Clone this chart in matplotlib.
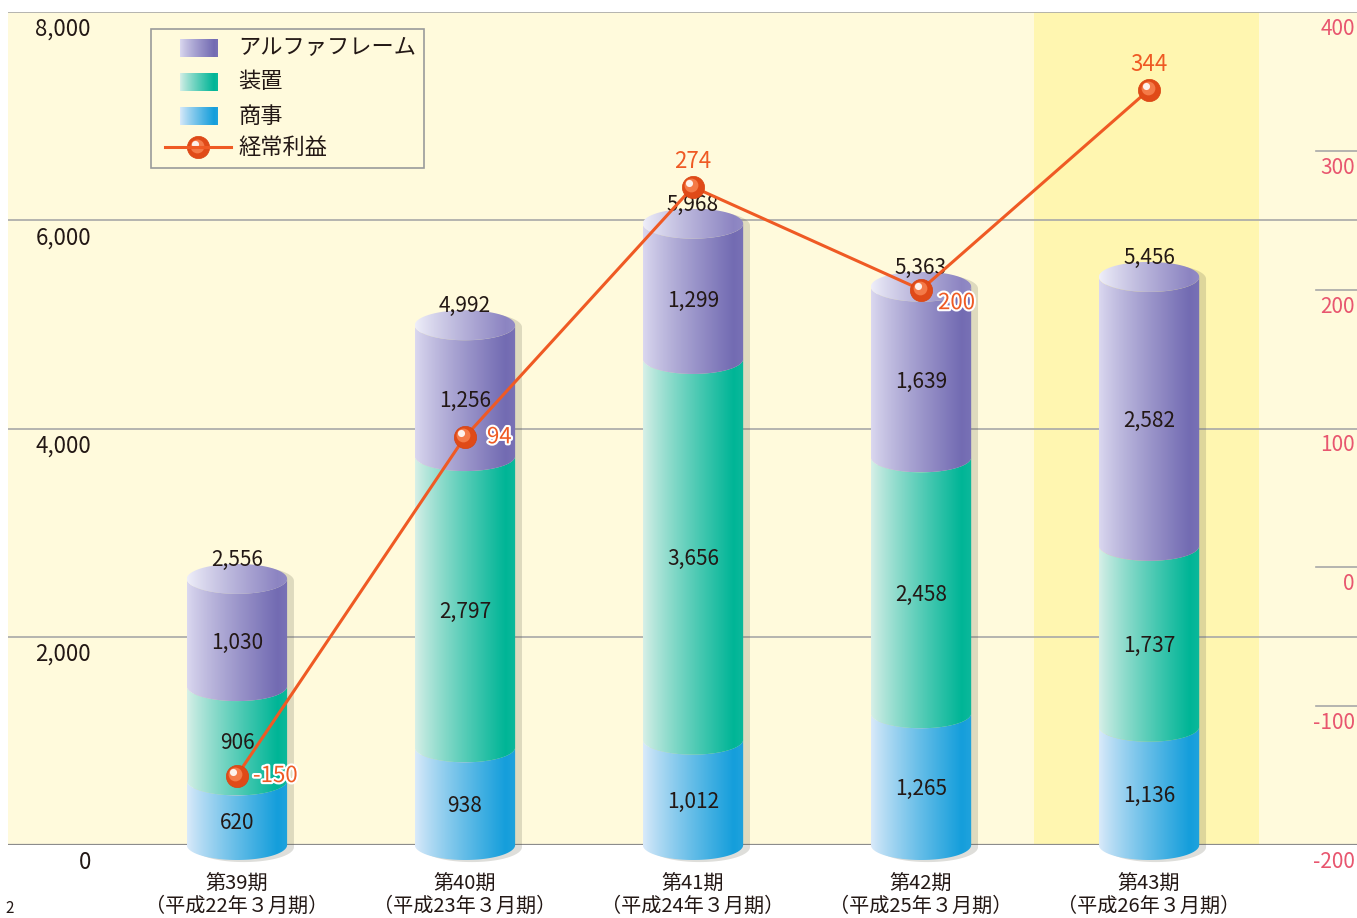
import numpy as np
import matplotlib
matplotlib.use("Agg")
import matplotlib.pyplot as plt
import matplotlib.patheffects as pe
from matplotlib.path import Path
from matplotlib.patches import PathPatch, Rectangle
from matplotlib.transforms import offset_copy, blended_transform_factory


# =========================
# Data
# =========================

periods = ["第39期", "第40期", "第41期", "第42期", "第43期"]
fiscal = ["（平成22年３月期）", "（平成23年３月期）", "（平成24年３月期）",
          "（平成25年３月期）", "（平成26年３月期）"]

trading = [620, 938, 1012, 1265, 1136]          # 商事
equipment = [906, 2797, 3656, 2458, 1737]       # 装置
alpha_frame = [1030, 1256, 1299, 1639, 2582]    # アルファフレーム
totals = [2556, 4992, 5968, 5363, 5456]
profit = [-150, 94, 274, 200, 344]              # 経常利益

series_names = ["アルファフレーム", "装置", "商事", "経常利益"]

left_ticks = [0, 2000, 4000, 6000, 8000]
right_ticks = [-200, -100, 0, 100, 200, 300, 400]


# =========================
# Style
# =========================

plt.rcParams["font.family"] = ["Noto Sans CJK JP", "DejaVu Sans"]

CREAM = "#fffadc"
HIGHLIGHT = "#fff6b0"
GRID = "#a8a8a8"
TEXT = "#231815"
PINK = "#e8566f"
ORANGE = "#ef5a24"

# left/right gradient colours per segment
PURPLE = ((0.86, 0.85, 0.94), (0.45, 0.42, 0.70))
GREEN = ((0.85, 0.94, 0.91), (0.00, 0.71, 0.59))
BLUE = ((0.86, 0.92, 0.98), (0.08, 0.62, 0.86))
CAP = ((0.94, 0.94, 0.98), (0.55, 0.52, 0.76))

HALF_W = 0.22     # cylinder half width (category units)
ELL_H = 144       # ellipse half height (left axis units)


def gradient(colors, n=256):
    left = np.array(colors[0])
    right = np.array(colors[1])
    t = np.linspace(0, 1, n)
    k = np.clip(t / 0.9, 0, 1) ** 0.85
    k[t > 0.9] -= (t[t > 0.9] - 0.9) * 0.6
    img = left[None, :] + (right - left)[None, :] * k[:, None]
    return img[None, :, :]


def segment_path(x, y0, y1):
    th = np.linspace(np.pi, 2 * np.pi, 60)
    top = np.column_stack([x + HALF_W * np.cos(th), y1 + ELL_H * np.sin(th)])
    bot = np.column_stack([x + HALF_W * np.cos(th[::-1]), y0 + ELL_H * np.sin(th[::-1])])
    verts = np.vstack([top, bot, top[:1]])
    codes = [Path.MOVETO] + [Path.LINETO] * (len(verts) - 2) + [Path.CLOSEPOLY]
    return Path(verts, codes)


def ellipse_path(x, y):
    th = np.linspace(0, 2 * np.pi, 120)
    verts = np.column_stack([x + HALF_W * np.cos(th), y + ELL_H * np.sin(th)])
    return Path(verts, closed=True)


def silhouette(x, ytop, dx, dy):
    th_b = np.linspace(np.pi, 2 * np.pi, 60)
    th_t = np.linspace(0, np.pi, 60)
    bot = np.column_stack([x + dx + HALF_W * np.cos(th_b), dy + ELL_H * np.sin(th_b)])
    top = np.column_stack([x + dx + HALF_W * np.cos(th_t), ytop + dy + ELL_H * np.sin(th_t)])
    verts = np.vstack([bot, top, bot[:1]])
    return Path(verts, closed=True)


def fill_gradient(ax, path, colors, extent, zorder):
    patch = PathPatch(path, facecolor="none", edgecolor="none", clip_on=False)
    ax.add_patch(patch)
    im = ax.imshow(gradient(colors), extent=extent, aspect="auto",
                   interpolation="bilinear", zorder=zorder)
    im.set_clip_box(ax.figure.bbox)
    im.set_clip_path(patch)


def sphere(ax, xs, ys, transform, size=16):
    fig = ax.figure
    ax.plot(xs, ys, "o", ms=size, color="#e04a18", mec="#d8420f", mew=0.5,
            transform=transform, zorder=6, clip_on=False)
    t1 = offset_copy(transform, fig=fig, x=-1.5, y=1.5, units="dots")
    ax.plot(xs, ys, "o", ms=size * 0.62, color="#f47a48", mew=0,
            transform=t1, zorder=7, clip_on=False)
    t2 = offset_copy(transform, fig=fig, x=-3.5, y=3.5, units="dots")
    ax.plot(xs, ys, "o", ms=size * 0.32, color="white", alpha=0.9, mew=0,
            transform=t2, zorder=8, clip_on=False)


# =========================
# Figure
# =========================

fig = plt.figure(figsize=(13.57, 9.18), dpi=100)
fig.patch.set_facecolor("white")
ax = fig.add_axes([8 / 1357, 73 / 918, 1349 / 1357, 833 / 918])
ax.set_facecolor(CREAM)
ax.set_xlim(-1.004, 4.912)
ax.set_ylim(0, 8000)
ax.set_autoscale_on(False)
for s in ax.spines.values():
    s.set_visible(False)

# highlighted latest period
ax.axvspan(3.496, 4.482, color=HIGHLIGHT, zorder=0.5, lw=0)

# grid lines
for v in left_ticks[1:]:
    ax.axhline(v, color=GRID, lw=1.2, zorder=1)
ax.axhline(0, color="#8c8c8c", lw=1.6, zorder=1)

# left tick labels (under each grid line)
ytrans = blended_transform_factory(ax.transAxes, ax.transData)
for v in left_ticks:
    ax.annotate(f"{v:,}", xy=(0.0615, v), xycoords=ytrans,
                xytext=(0, -6), textcoords="offset pixels",
                ha="right", va="top", fontsize=16, color=TEXT,
                annotation_clip=False)

# x labels
ax.set_yticks([])
ax.set_xticks(range(len(periods)))
ax.set_xticklabels([f"{p}\n{f}" for p, f in zip(periods, fiscal)],
                   fontsize=14.5, color=TEXT, linespacing=1.05)
ax.tick_params(axis="x", length=0, pad=21)

# cylinders
stack = [trading, equipment, alpha_frame]
grads = [BLUE, GREEN, PURPLE]
for i in range(len(periods)):
    sil = PathPatch(silhouette(i, totals[i], 0.03, -20), facecolor="#5a5a48",
                    alpha=0.2, edgecolor="none", zorder=1.5, clip_on=False)
    ax.add_patch(sil)
    base = 0
    for vals, g in zip(stack, grads):
        top = base + vals[i]
        fill_gradient(ax, segment_path(i, base, top), g,
                      [i - HALF_W, i + HALF_W, base - ELL_H, top + ELL_H], 2)
        ax.annotate(f"{vals[i]:,}", xy=(i, (base + top) / 2),
                    xytext=(0, -10), textcoords="offset pixels",
                    ha="center", va="center", fontsize=15, color=TEXT, zorder=4)
        base = top
    fill_gradient(ax, ellipse_path(i, totals[i]), CAP,
                  [i - HALF_W, i + HALF_W, totals[i] - ELL_H, totals[i] + ELL_H], 3)
    ax.annotate(f"{totals[i]:,}", xy=(i, totals[i]),
                xytext=(0, 19), textcoords="offset pixels",
                ha="center", va="center", fontsize=15, color=TEXT, zorder=4)

# =========================
# Profit line (right axis)
# =========================

ax2 = ax.twinx()
ax2.set_ylim(-200, 400)
ax2.set_yticks([])
for s in ax2.spines.values():
    s.set_visible(False)

for v in [300, 200, 0, -100]:
    ax2.axhline(v, xmin=(1316 - 8) / 1349, xmax=1, color=GRID, lw=1.2)

rtrans = blended_transform_factory(ax2.transAxes, ax2.transData)
for v in right_ticks:
    ax2.annotate(f"{v}", xy=(0.9985, v), xycoords=rtrans,
                 xytext=(0, -6), textcoords="offset pixels",
                 ha="right", va="top", fontsize=15, color=PINK,
                 annotation_clip=False)

xs = np.arange(len(profit))
ax2.plot(xs, profit, color=ORANGE, lw=2.2, zorder=5)
sphere(ax2, xs, profit, ax2.transData)

label_pos = [(16, 0, "left", True), (22, 0, "left", True), (0, 25, "center", False),
             (17, -13, "left", True), (0, 25, "center", False)]
for x, v, (dx, dy, ha, halo) in zip(xs, profit, label_pos):
    t = ax2.annotate(f"{v}", xy=(x, v), xytext=(dx, dy), textcoords="offset pixels",
                     ha=ha, va="center", fontsize=16, color=ORANGE, zorder=9)
    if halo:
        t.set_path_effects([pe.withStroke(linewidth=3, foreground="white")])

# =========================
# Legend (drawn by hand)
# =========================

def fx(px):
    return (px - 8) / 1349


def fy(py):
    return (845 - py) / 833


ax2.add_patch(Rectangle((fx(151), fy(168)), fx(424) - fx(151), fy(29) - fy(168),
                        transform=ax2.transAxes, facecolor="none",
                        edgecolor="#9a9a9a", lw=1.2, zorder=9))
for name, g, py in zip(series_names[:3], [PURPLE, GREEN, BLUE], [48, 82, 116]):
    ax2.imshow(gradient(g), extent=[fx(180), fx(218), fy(py + 9), fy(py - 9)],
               transform=ax2.transAxes, aspect="auto", zorder=9)
    ax2.text(fx(238), fy(py), name, transform=ax2.transAxes, ha="left",
             va="center", fontsize=16, color=TEXT, zorder=9)
ax2.plot([fx(165), fx(231)], [fy(147), fy(147)], color=ORANGE, lw=2.2,
         transform=ax2.transAxes, zorder=9)
sphere(ax2, [fx(198)], [fy(147)], ax2.transAxes)
ax2.text(fx(238), fy(147), series_names[3], transform=ax2.transAxes, ha="left",
         va="center", fontsize=16, color=TEXT, zorder=9)
ax2.set_xlim(-1.004, 4.912)

# page number at the bottom edge
fig.text(0.004, 0.001, "2", fontsize=11, color=TEXT, ha="left", va="bottom")

fig.savefig("out.png", dpi=100, facecolor="white")
